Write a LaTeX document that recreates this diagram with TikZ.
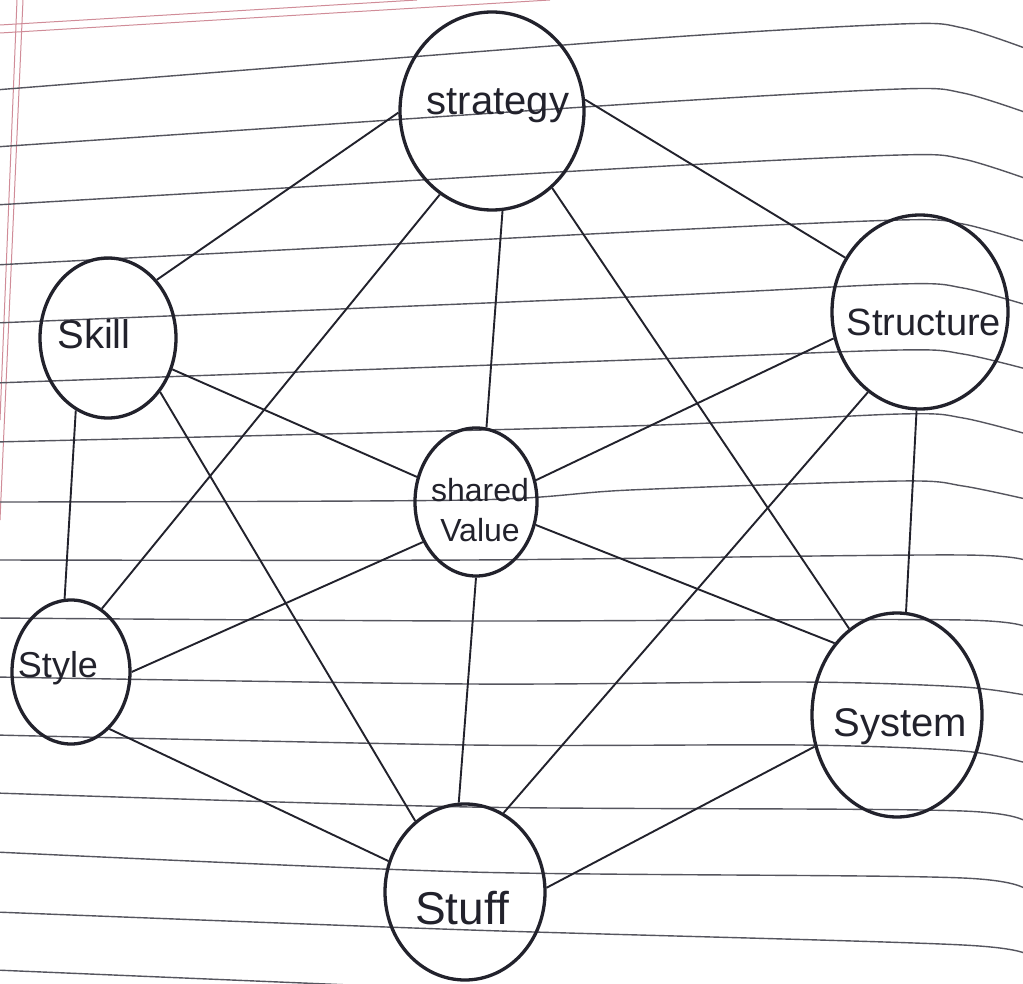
\documentclass[tikz,border=0pt]{standalone}
\usepackage{fontspec}
\setmainfont{Liberation Sans}
\usetikzlibrary{shapes.geometric}
\definecolor{ink}{HTML}{22222C}
\definecolor{rulegray}{HTML}{55555E}
\definecolor{marginred}{HTML}{D08C98}
\begin{document}
\begin{tikzpicture}[x=1pt,y=-1pt,
  ring/.style={ellipse, draw=ink, line width=3.3pt, inner sep=0pt},
  word/.style={text=ink, inner sep=0pt, anchor=center},
  link/.style={draw=ink, line width=1.9pt},
  ruling/.style={draw=rulegray, line width=1.4pt},
  margin/.style={draw=marginred, line width=1pt}]
\fill[white] (0,0) rectangle (1023,984);
\useasboundingbox (0,0) rectangle (1023,984);

% ruled notebook paper
\begin{scope}
\clip (0,0) rectangle (1023,984);
\draw[margin] (0,25) -- (417,0);
\draw[margin] (0,33) -- (550,0);
\draw[margin] (17,0) -- (0,420);
\draw[margin] (23,0) -- (0,520);
\draw[ruling] plot[smooth] coordinates {(-5,90) (630,40) (900,24) (963,28) (1030,50)};
\draw[ruling] plot[smooth] coordinates {(-5,147) (630,104) (900,89) (963,93) (1030,114)};
\draw[ruling] plot[smooth] coordinates {(-5,205) (630,168) (900,155) (963,159) (1030,180)};
\draw[ruling] plot[smooth] coordinates {(-5,265) (630,232) (900,220) (963,224) (1030,243)};
\draw[ruling] plot[smooth] coordinates {(-5,323) (630,297) (900,284) (963,288) (1030,306)};
\draw[ruling] plot[smooth] coordinates {(-5,383) (630,360) (900,350) (963,354) (1030,370)};
\draw[ruling] plot[smooth] coordinates {(-5,442) (630,426) (900,414) (963,418) (1030,435)};
\draw[ruling] plot[smooth] coordinates {(-5,502) (470,500) (630,490) (900,481) (963,486) (1030,500)};
\draw[ruling] plot[smooth] coordinates {(-5,560) (470,560) (963,555) (1030,565)};
\draw[ruling] plot[smooth] coordinates {(-5,618) (470,621) (963,620) (1030,632)};
\draw[ruling] plot[smooth] coordinates {(-5,677) (470,684) (800,682) (963,687) (1030,696)};
\draw[ruling] plot[smooth] coordinates {(-5,735) (470,745) (800,745) (963,751) (1030,764)};
\draw[ruling] plot[smooth] coordinates {(-5,793) (470,807) (963,811) (1030,829)};
\draw[ruling] plot[smooth] coordinates {(-5,852) (470,872) (963,878) (1030,897)};
\draw[ruling] plot[smooth] coordinates {(-5,912) (470,930) (963,945) (1030,959)};
\draw[ruling] plot[smooth] coordinates {(-5,970) (470,990) (963,1010) (1030,1022)};
\end{scope}

% the seven elements
\node[ring, minimum width=184pt, minimum height=198pt] (strat) at (492,111) {};
\node[ring, minimum width=136pt, minimum height=160pt] (skill) at (108,338) {};
\node[ring, minimum width=176pt, minimum height=194pt] (struct) at (920,312) {};
\node[ring, minimum width=122pt, minimum height=148pt] (shared) at (476,502) {};
\node[ring, minimum width=118pt, minimum height=144pt] (style) at (71,672) {};
\node[ring, minimum width=170pt, minimum height=204pt] (system) at (897,715) {};
\node[ring, minimum width=160pt, minimum height=176pt] (stuff) at (465,892) {};

% labels
\node[word, font=\fontsize{40}{40}\selectfont] (lstrat) at (498,106) {strategy};
\node[word, font=\fontsize{40}{40}\selectfont] (lskill) at (94,334) {Skill};
\node[word, font=\fontsize{38}{38}\selectfont] (lstruct) at (924,322) {Structure};
\node[word, align=center, font=\fontsize{32}{40}\selectfont] (lshared) at (480,510) {shared\\Value};
\node[word, font=\fontsize{36}{36}\selectfont] (lstyle) at (58,668) {Style};
\node[word, font=\fontsize{40}{40}\selectfont] (lsystem) at (900,727) {System};
\node[word, font=\fontsize{46}{46}\selectfont] (lstuff) at (462,908) {Stuff};

% connections between every pair
\draw[link] (strat.181) -- (skill.50);
\draw[link] (strat.7) -- (struct.144);
\draw[link] (strat.238) -- (style.64);
\draw[link] (strat.276) -- (shared.82);
\draw[link] (strat.308) -- (system.119);
\draw[link] (skill.334) -- (shared.157);
\draw[link] (skill.314) -- (stuff.125);
\draw[link] (skill.246) -- (style.95);
\draw[link] (struct.197) -- (shared.20);
\draw[link] (struct.237) -- (stuff.64);
\draw[link] (struct.268) -- (system.85);
\draw[link] (shared.217) -- (style.0);
\draw[link] (shared.339) -- (system.131);
\draw[link] (shared.270) -- (stuff.94);
\draw[link] (style.304) -- (stuff.158);
\draw[link] (system.201) -- (stuff.3);
\end{tikzpicture}
\end{document}
